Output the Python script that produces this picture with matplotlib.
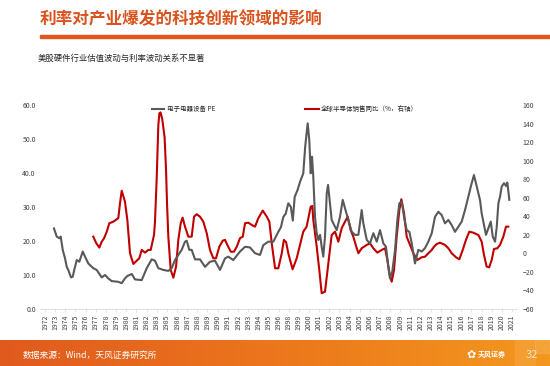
import numpy as np
import matplotlib.pyplot as plt
from matplotlib.colors import LinearSegmentedColormap
from matplotlib.lines import Line2D
from matplotlib.patches import Rectangle

plt.rcParams['font.family'] = ['Noto Sans CJK SC', 'DejaVu Sans']

title = "利率对产业爆发的科技创新领域的影响"
subtitle = "美股硬件行业估值波动与利率波动关系不显著"
source = "数据来源：Wind，天风证券研究所"
pe_label = "电子电器设备 PE"
semi_label = "全球半导体销售同比（%，右轴）"

# x轴标签（原图跳过了1984、1997、2010）
year_labels = [str(y) for y in range(1972, 2022) if y not in (1984, 1997, 2010)]

# 电子电器设备 PE（左轴）
pe_x = [1972.94, 1973.23, 1973.50, 1973.65, 1973.86, 1974.10, 1974.28, 1974.44, 1974.73, 1974.91,
        1975.07, 1975.33, 1975.60, 1975.96, 1976.20, 1976.54, 1977.07, 1977.42, 1977.95, 1978.30,
        1978.64, 1979.00, 1979.69, 1980.05, 1980.39, 1980.64, 1981.10, 1981.44, 1982.15, 1982.67,
        1983.20, 1983.54, 1983.89, 1984.41, 1984.94, 1985.29, 1985.64, 1985.99, 1986.34, 1986.69,
        1986.87, 1987.14, 1987.39, 1987.74, 1988.26, 1988.79, 1989.31, 1989.84, 1990.36, 1990.89,
        1991.23, 1991.76, 1992.46, 1992.99, 1993.51, 1994.04, 1994.56, 1994.91, 1995.43, 1995.96,
        1996.48, 1996.75, 1997.01, 1997.25, 1997.53, 1997.80, 1998.00, 1998.20, 1998.50, 1998.76,
        1999.10, 1999.30, 1999.56, 1999.73, 1999.88, 2000.02, 2000.15, 2000.33, 2000.51, 2000.68,
        2000.86, 2001.03, 2001.20, 2001.38, 2001.56, 2001.70, 2001.90, 2002.08, 2002.25, 2002.61,
        2002.95, 2003.24, 2003.48, 2003.83, 2004.18, 2004.53, 2004.88, 2005.23, 2005.40, 2005.76,
        2006.10, 2006.45, 2006.81, 2007.15, 2007.50, 2007.78, 2008.02, 2008.20, 2008.44, 2008.73,
        2008.97, 2009.18, 2009.43, 2009.67, 2009.95, 2010.23, 2010.48, 2010.65, 2010.82, 2011.17,
        2011.53, 2011.87, 2012.22, 2012.58, 2012.92, 2013.27, 2013.63, 2013.97, 2014.32, 2014.67,
        2015.02, 2015.37, 2015.72, 2016.07, 2016.42, 2016.77, 2017.01, 2017.30, 2017.64, 2017.82,
        2018.06, 2018.27, 2018.51, 2018.77, 2018.98, 2019.22, 2019.40, 2019.57, 2019.74, 2019.92,
        2020.16, 2020.37, 2020.51, 2020.72]
pe_y = [23.7, 21.3, 20.8, 21.3, 17.4, 14.9, 12.4, 11.5, 9.3, 9.5,
        11.5, 14.4, 13.9, 16.9, 15.4, 13.4, 12.0, 11.5, 9.3, 10.0,
        9.0, 8.2, 8.0, 7.6, 9.0, 9.7, 10.3, 8.7, 8.5, 12.0,
        14.6, 14.2, 12.0, 11.5, 11.2, 12.0, 14.4, 15.9, 17.4, 19.8,
        20.1, 17.4, 17.4, 14.6, 14.6, 12.4, 13.9, 14.2, 11.5, 14.9,
        15.4, 14.4, 16.9, 18.3, 18.1, 16.4, 15.9, 18.8, 19.8, 19.8,
        22.7, 24.0, 27.1, 28.0, 31.1, 30.0, 26.0, 33.0, 35.0, 37.4,
        39.9, 47.7, 54.6, 49.7, 39.9, 44.8, 38.9, 27.1, 22.3, 20.3,
        21.8, 18.3, 15.4, 21.3, 34.0, 36.5, 31.1, 26.2, 25.2, 23.2,
        27.1, 32.1, 29.6, 26.2, 22.7, 21.8, 21.8, 29.1, 25.2, 20.3,
        19.3, 22.3, 19.8, 23.2, 19.3, 18.3, 12.4, 9.0, 11.0, 17.4,
        26.2, 31.1, 31.6, 27.1, 23.2, 22.7, 19.3, 16.4, 13.4, 17.4,
        16.9, 17.9, 19.8, 22.3, 27.1, 28.6, 27.6, 25.2, 26.2, 24.7,
        22.7, 24.2, 25.7, 29.1, 33.0, 37.0, 39.4, 36.0, 32.1, 28.1,
        24.7, 21.8, 23.7, 25.7, 21.3, 19.8, 24.2, 31.1, 33.0, 36.0,
        37.0, 36.2, 37.2, 32.1]

# 全球半导体销售同比 %（右轴）
semi_x = [1977.07, 1977.35, 1977.70, 1977.95, 1978.20, 1978.48, 1978.75, 1979.17, 1979.69, 1979.87,
          1980.05, 1980.39, 1980.64, 1980.92, 1981.27, 1981.62, 1981.89, 1982.15, 1982.49, 1982.84,
          1983.09, 1983.44, 1983.54, 1983.72, 1983.89, 1984.00, 1984.12, 1984.30, 1984.55, 1984.70,
          1984.80, 1984.94, 1985.19, 1985.47, 1985.75, 1985.99, 1986.24, 1986.44, 1986.69, 1987.04,
          1987.39, 1987.64, 1987.92, 1988.26, 1988.61, 1988.97, 1989.31, 1989.66, 1989.94, 1990.29,
          1990.65, 1990.89, 1991.13, 1991.49, 1991.83, 1992.12, 1992.46, 1992.75, 1992.99, 1993.34,
          1993.69, 1994.04, 1994.38, 1994.85, 1995.27, 1995.54, 1995.79, 1996.14, 1996.48, 1996.84,
          1997.06, 1997.30, 1997.53, 1997.98, 1998.41, 1998.76, 1999.10, 1999.45, 1999.88, 2000.05,
          2000.15, 2000.51, 2000.78, 2001.03, 2001.38, 2001.73, 2002.08, 2002.43, 2002.78, 2003.13,
          2003.48, 2003.76, 2004.07, 2004.35, 2004.71, 2004.88, 2005.23, 2005.76, 2006.10, 2006.45,
          2006.87, 2007.33, 2007.68, 2007.92, 2008.20, 2008.38, 2008.62, 2008.90, 2009.18, 2009.39,
          2009.67, 2009.95, 2010.30, 2010.65, 2011.07, 2011.53, 2011.87, 2012.22, 2012.58, 2012.82,
          2013.10, 2013.45, 2013.97, 2014.32, 2014.67, 2015.12, 2015.47, 2015.83, 2016.17, 2016.52,
          2016.94, 2017.47, 2017.82, 2018.06, 2018.34, 2018.61, 2018.87, 2019.11, 2019.46, 2019.74,
          2020.09, 2020.37, 2020.61]
semi_y = [18.0, 11.5, 6.2, 12.6, 16.3, 23.4, 32.5, 34.2, 37.9, 54.0,
          67.6, 55.8, 36.0, 0.0, -11.4, -7.9, -5.3, 3.7, 0.8, 3.7,
          3.7, 20.0, 34.0, 81.0, 138.0, 151.0, 152.0, 145.0, 125.0, 90.0,
          55.0, 18.0, -17.9, -26.2, -14.3, 14.5, 32.5, 38.5, 28.8, 18.0,
          18.0, 39.6, 42.2, 39.6, 34.2, 21.7, 3.7, -5.3, -5.3, 7.2,
          13.7, 14.5, 9.1, 1.8, 1.8, 7.2, 16.3, 18.0, 32.5, 33.1,
          30.6, 28.8, 37.9, 46.1, 39.6, 34.2, 10.9, -16.1, -16.1, 0.0,
          14.5, 12.0, 0.0, -17.2, -5.3, 9.1, 23.4, 28.8, 50.4, 51.1,
          36.0, 7.2, -17.9, -43.0, -41.3, -10.7, 19.8, 23.4, 12.6, 27.1,
          34.2, 39.6, 25.2, 18.0, 5.5, 0.1, 5.5, 9.1, 10.9, 5.5,
          0.8, 3.7, 5.5, -7.1, -25.1, -30.5, -17.9, 18.0, 46.8, 58.4,
          43.3, 18.0, 9.1, 0.1, -7.1, -4.2, -3.6, 0.1, 3.7, 7.2,
          10.1, 11.5, 9.1, 5.5, 0.1, -4.2, -6.4, 3.7, 14.5, 23.4,
          22.3, 19.8, 12.6, -1.7, -14.3, -15.0, -7.1, 4.7, 5.5, 9.1,
          18.0, 28.8, 28.8]

W, H = 550, 366
fig = plt.figure(figsize=(W / 100, H / 100), dpi=100)

# 标题和分隔线
fig.text(40 / W, 1 - 19 / H, title, fontsize=12, fontweight='bold', color='#D9531E', va='center', ha='left')
fig.patches.append(Rectangle((40 / W, 1 - 38 / H), 1 - 40 / W, 3.2 / H, transform=fig.transFigure,
                             color='#E0561C', zorder=1))
fig.text(38 / W, 1 - 58 / H, subtitle, fontsize=6, color='#262626', va='center', ha='left')

# 主图
ax = fig.add_axes([40 / W, 1 - 309 / H, 477 / W, 204 / H])
ax2 = ax.twinx()
ax.plot(pe_x, pe_y, color='#595959', lw=1.5, zorder=3)
ax2.plot(semi_x, semi_y, color='#C00000', lw=1.5, zorder=2)
ax.set_zorder(ax2.get_zorder() + 1)
ax.patch.set_visible(False)

ax.set_xlim(1972 - 5 * 49 / 467, 2021 + 5 * 49 / 467)
ax.set_ylim(0, 60)
ax2.set_ylim(-60, 160)
ax.set_yticks(np.arange(0, 61, 10))
ax.set_yticklabels([f"{v:.1f}" for v in np.arange(0, 61, 10)])
ax2.set_yticks(np.arange(-60, 161, 20))

ax.set_xticks(np.linspace(1972, 2021, len(year_labels)))
ax.set_xticklabels(year_labels, rotation=90)

for a in (ax, ax2):
    for s in a.spines.values():
        s.set_visible(False)
ax.spines['bottom'].set_visible(True)
ax.spines['bottom'].set_color('#D9D9D9')
ax.spines['bottom'].set_linewidth(0.6)
ax.tick_params(axis='x', length=2, width=0.5, color='#D9D9D9', labelsize=5, labelcolor='#404040', pad=2)
ax.tick_params(axis='y', length=0, labelsize=5, labelcolor='#404040', pad=3)
ax2.tick_params(axis='y', length=0, labelsize=5, labelcolor='#404040', pad=4)

# 图例
h1 = Line2D([], [], color='#595959', lw=1.5)
h2 = Line2D([], [], color='#C00000', lw=1.5)
leg1 = ax.legend([h1], [pe_label], loc='center left', bbox_to_anchor=(152 / W, 1 - 109 / H),
                 bbox_transform=fig.transFigure, frameon=False, fontsize=4.7, borderpad=0,
                 borderaxespad=0, handlelength=1.8, handletextpad=0.5)
leg2 = ax2.legend([h2], [semi_label], loc='center left', bbox_to_anchor=(305 / W, 1 - 109 / H),
                  bbox_transform=fig.transFigure, frameon=False, fontsize=4.7, borderpad=0,
                  borderaxespad=0, handlelength=2.1, handletextpad=0.3)
for t in leg1.get_texts() + leg2.get_texts():
    t.set_color('#262626')

# 底部橙色条
axf = fig.add_axes([0, 0, 1, 26 / H])
cmap = LinearSegmentedColormap.from_list('band', ['#E05A1E', '#EC761C', '#F3981F'])
axf.imshow(np.linspace(0, 1, 256).reshape(1, -1), aspect='auto', cmap=cmap, extent=[0, 1, 0, 1])
axf.add_patch(Rectangle((515 / W, 0), 20 / W, 1, color='#F6A43E', alpha=0.6))
axf.add_patch(Rectangle((535 / W, 0.5), 15 / W, 0.5, color='#F7B055', alpha=0.5))
axf.set_xlim(0, 1)
axf.set_ylim(0, 1)
axf.axis('off')

fig.text(23 / W, 1 - 355 / H, source, fontsize=6.3, color='white', va='center', ha='left')
fig.text(466 / W, 1 - 355 / H, "✿", fontsize=8, color='white', va='center', ha='left',
         family=['DejaVu Sans'])
fig.text(478 / W, 1 - 354 / H, "天风证券", fontsize=5, fontweight='bold', color='white', va='center', ha='left')
fig.text(532 / W, 1 - 355 / H, "32", fontsize=8, color='#FDE3C4', va='center', ha='center')

fig.savefig("out.png", dpi=100)
